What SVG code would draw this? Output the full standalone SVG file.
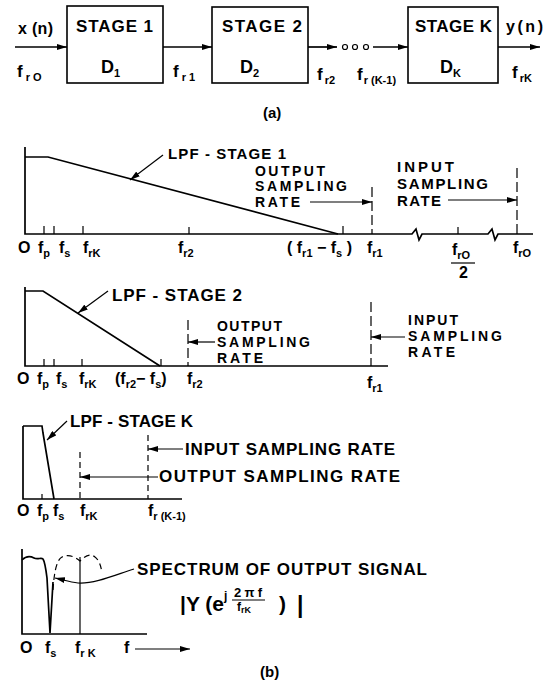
<svg xmlns="http://www.w3.org/2000/svg" width="550" height="682" viewBox="0 0 550 682">
<style>
.ln{stroke:#000;stroke-width:1.7;fill:none}
.th{stroke:#000;stroke-width:1.2;fill:none}
.dsh{stroke-dasharray:10 4}
.dsh2{stroke-dasharray:6 4}
.box{stroke:#000;stroke-width:1.6;fill:#fff}
text{font-family:"Liberation Sans",Arial,sans-serif;font-weight:bold;fill:#000}
.t14{font-size:14px}
.t15{font-size:15px}
.t16{font-size:16px}
.t17{font-size:17px}
.t18{font-size:18px}
.sb{font-size:11px}
</style>
<defs>
<marker id="ah" viewBox="0 0 10 6" refX="10" refY="3" markerWidth="10" markerHeight="6" markerUnits="userSpaceOnUse" orient="auto">
<path d="M0,0 L10,3 L0,6 z" fill="#000"/>
</marker>
</defs>
<rect width="550" height="682" fill="#fff"/>

<!-- (a) block diagram -->
<g id="stage1">
<rect class="box" x="67" y="6" width="96" height="77"/>
<text class="t17" x="76" y="32" textLength="77" lengthAdjust="spacing">STAGE 1</text>
<text class="t18" x="101" y="73">D<tspan class="sb" dy="4">1</tspan></text>
</g>
<g id="stage2">
<rect class="box" x="212" y="7" width="96" height="76"/>
<text class="t17" x="222" y="32" textLength="80" lengthAdjust="spacing">STAGE 2</text>
<text class="t18" x="240" y="73">D<tspan class="sb" dy="4">2</tspan></text>
</g>
<g id="stageK">
<rect class="box" x="408" y="7" width="90" height="76"/>
<text class="t17" x="415" y="32" textLength="77" lengthAdjust="spacing">STAGE K</text>
<text class="t18" x="440" y="73">D<tspan class="sb" dy="4">K</tspan></text>
</g>
<g id="connectors">
<line class="ln" x1="15" y1="47" x2="67" y2="47" marker-end="url(#ah)"/>
<line class="ln" x1="163" y1="47" x2="212" y2="47" marker-end="url(#ah)"/>
<line class="ln" x1="308" y1="47" x2="337" y2="47" marker-end="url(#ah)"/>
<circle class="th" cx="345" cy="47" r="2.5"/>
<circle class="th" cx="355" cy="47" r="2.5"/>
<circle class="th" cx="366" cy="47" r="2.5"/>
<line class="ln" x1="373" y1="47" x2="408" y2="47" marker-end="url(#ah)"/>
<line class="ln" x1="498" y1="47" x2="540" y2="47" marker-end="url(#ah)"/>
</g>
<g id="labels-a">
<text class="t16" x="18" y="34" textLength="35" lengthAdjust="spacing">x (n)</text>
<text class="t17" x="17" y="77">f<tspan class="sb" dy="4" dx="3">r O</tspan></text>
<text class="t17" x="173" y="77">f<tspan class="sb" dy="4" dx="3">r 1</tspan></text>
<text class="t17" x="317" y="80">f<tspan class="sb" dy="4" dx="2">r2</tspan></text>
<text class="t17" x="357" y="80">f<tspan class="sb" dy="4" dx="1">r (K-1)</tspan></text>
<text class="t16" x="506" y="32" textLength="37" lengthAdjust="spacing">y(n)</text>
<text class="t17" x="512" y="78">f<tspan class="sb" dy="4" dx="2">rK</tspan></text>
<text class="t15" x="263" y="118">(a)</text>
</g>

<!-- plot 1 -->
<g id="plot1">
<path class="ln" d="M25,147 L25,234 L412,234 L416,229 L419,240 L422,234 L488,234 L492,229 L495,240 L498,234 L533,234"/>
<path class="ln" d="M25,157 L48,157 L338,234"/>
<path class="th" d="M44,226 V234 M54,226 V234 M83,226 V234 M189,227 V234 M343,226 V234 M458,227 V234"/>
<line class="th dsh" x1="372" y1="187" x2="372" y2="234"/>
<line class="th dsh" x1="517" y1="168" x2="517" y2="234"/>
<line class="th" x1="163" y1="155" x2="130" y2="180" marker-end="url(#ah)"/>
<line class="th" x1="310" y1="202" x2="372" y2="202" marker-end="url(#ah)"/>
<line class="th" x1="448" y1="200" x2="517" y2="200" marker-end="url(#ah)"/>
<text class="t15" x="168" y="159" textLength="118" lengthAdjust="spacing">LPF - STAGE 1</text>
<text class="t14" x="255" y="176" textLength="70" lengthAdjust="spacing">OUTPUT</text>
<text class="t14" x="255" y="191" textLength="92" lengthAdjust="spacing">SAMPLING</text>
<text class="t14" x="255" y="207" textLength="45" lengthAdjust="spacing">RATE</text>
<text class="t15" x="397" y="172" textLength="57" lengthAdjust="spacing">INPUT</text>
<text class="t15" x="397" y="189" textLength="91" lengthAdjust="spacing">SAMPLING</text>
<text class="t15" x="397" y="206" textLength="44" lengthAdjust="spacing">RATE</text>
<text class="t16" x="18" y="253">O</text>
<text class="t16" x="38" y="253">f<tspan class="sb" dy="4">p</tspan></text>
<text class="t16" x="59" y="253">f<tspan class="sb" dy="4">s</tspan></text>
<text class="t16" x="83" y="253">f<tspan class="sb" dy="4">rK</tspan></text>
<text class="t16" x="178" y="253">f<tspan class="sb" dy="4">r2</tspan></text>
<text class="t16" x="287" y="253">( f<tspan class="sb" dy="4">r1</tspan><tspan dy="-4"> − f</tspan><tspan class="sb" dy="4">s</tspan><tspan dy="-4"> )</tspan></text>
<text class="t16" x="367" y="253">f<tspan class="sb" dy="4">r1</tspan></text>
<text class="t16" x="452" y="255">f<tspan class="sb" dy="4">rO</tspan></text>
<line class="th" x1="451" y1="263" x2="475" y2="263"/>
<text class="t16" x="459" y="278">2</text>
<text class="t16" x="513" y="253">f<tspan class="sb" dy="4">rO</tspan></text>
</g>

<!-- plot 2 -->
<g id="plot2">
<path class="ln" d="M25,287 L25,366 L388,366"/>
<path class="ln" d="M25,291 L43,291 L160,366"/>
<path class="th" d="M44,359 V366 M54,359 V366 M82,359 V366 M161,359 V366"/>
<line class="th dsh" x1="188" y1="320" x2="188" y2="366"/>
<line class="th dsh" x1="371" y1="302" x2="371" y2="366"/>
<line class="th" x1="108" y1="291" x2="78" y2="313" marker-end="url(#ah)"/>
<line class="th" x1="215" y1="342" x2="188" y2="342" marker-end="url(#ah)"/>
<line class="th" x1="405" y1="337" x2="371" y2="337" marker-end="url(#ah)"/>
<text class="t17" x="112" y="301" textLength="130" lengthAdjust="spacing">LPF - STAGE 2</text>
<text class="t14" x="217" y="331" textLength="65" lengthAdjust="spacing">OUTPUT</text>
<text class="t14" x="217" y="347" textLength="93" lengthAdjust="spacing">SAMPLING</text>
<text class="t14" x="217" y="363" textLength="46" lengthAdjust="spacing">RATE</text>
<text class="t14" x="408" y="325" textLength="50" lengthAdjust="spacing">INPUT</text>
<text class="t14" x="408" y="341" textLength="94" lengthAdjust="spacing">SAMPLING</text>
<text class="t14" x="408" y="357" textLength="47" lengthAdjust="spacing">RATE</text>
<text class="t16" x="17" y="384">O</text>
<text class="t16" x="37" y="384">f<tspan class="sb" dy="4">p</tspan></text>
<text class="t16" x="56" y="384">f<tspan class="sb" dy="4">s</tspan></text>
<text class="t16" x="79" y="384">f<tspan class="sb" dy="4">rK</tspan></text>
<text class="t16" x="115" y="384">(f<tspan class="sb" dy="4">r2</tspan><tspan dy="-4">− f</tspan><tspan class="sb" dy="4">s</tspan><tspan dy="-4">)</tspan></text>
<text class="t16" x="187" y="384">f<tspan class="sb" dy="4">r2</tspan></text>
<text class="t16" x="367" y="388">f<tspan class="sb" dy="4">r1</tspan></text>
</g>

<!-- plot 3 -->
<g id="plot3">
<path class="ln" d="M23,426 L23,499 L182,499"/>
<path class="ln" d="M23,426 L42,426 L43,433 L54,499"/>
<path class="th" d="M42,494 V499"/>
<line class="th dsh2" x1="80" y1="452" x2="80" y2="499"/>
<line class="th dsh2" x1="148" y1="435" x2="148" y2="499"/>
<line class="th" x1="67" y1="421" x2="47" y2="440" marker-end="url(#ah)"/>
<line class="th" x1="183" y1="449" x2="148" y2="449" marker-end="url(#ah)"/>
<line class="th" x1="158" y1="477" x2="80" y2="477" marker-end="url(#ah)"/>
<text class="t17" x="70" y="427" textLength="123" lengthAdjust="spacing">LPF - STAGE K</text>
<text class="t17" x="185" y="455" textLength="210" lengthAdjust="spacing">INPUT SAMPLING RATE</text>
<text class="t17" x="159" y="482" textLength="241" lengthAdjust="spacing">OUTPUT SAMPLING RATE</text>
<text class="t16" x="17" y="516">O</text>
<text class="t16" x="37" y="516">f<tspan class="sb" dy="4">p</tspan></text>
<text class="t16" x="53" y="516">f<tspan class="sb" dy="4">s</tspan></text>
<text class="t16" x="80" y="516">f<tspan class="sb" dy="4">rK</tspan></text>
<text class="t16" x="148" y="516">f<tspan class="sb" dy="4">r (K-1)</tspan></text>
</g>

<!-- plot 4 -->
<g id="plot4">
<path class="ln" d="M22,549 L22,634 L147,634"/>
<path class="ln" d="M22,560 C26,556 30,556 34,558 C38,560 41,557 43,559 C45,562 46,570 47,578 L50,633 L53,582"/>
<path class="th dsh2" d="M53,590 C54,575 56,560 62,557 C68,554 74,556 80,561 C85,556 90,553 95,557 C99,560 101,566 102,573"/>
<line class="th" x1="80" y1="557" x2="80" y2="634"/>
<path class="th" d="M134,569 C115,575 95,584 78,583 C70,582 64,580 55,578" marker-end="url(#ah)"/>
<line class="th" x1="135" y1="649" x2="190" y2="649" marker-end="url(#ah)"/>
<text class="t17" x="137" y="575" textLength="290" lengthAdjust="spacing">SPECTRUM OF OUTPUT SIGNAL</text>
<text x="180" y="611" style="font-size:21px">|Y (e</text>
<text x="224" y="600" style="font-size:12px">j</text>
<text x="234" y="597" style="font-size:13px" textLength="28" lengthAdjust="spacing">2πf</text>
<line class="th" x1="232" y1="600" x2="265" y2="600"/>
<text x="237" y="611" style="font-size:12px">f<tspan dy="2" style="font-size:9px">rK</tspan></text>
<text x="279" y="611" style="font-size:21px">)</text>
<text x="297" y="613" style="font-size:23px">|</text>
<text class="t16" x="20" y="653">O</text>
<text class="t16" x="45" y="653">f<tspan class="sb" dy="4">s</tspan></text>
<text class="t16" x="75" y="653">f<tspan class="sb" dy="4">r K</tspan></text>
<text class="t16" x="124" y="653">f</text>
<text class="t15" x="260" y="677">(b)</text>
</g>
</svg>
